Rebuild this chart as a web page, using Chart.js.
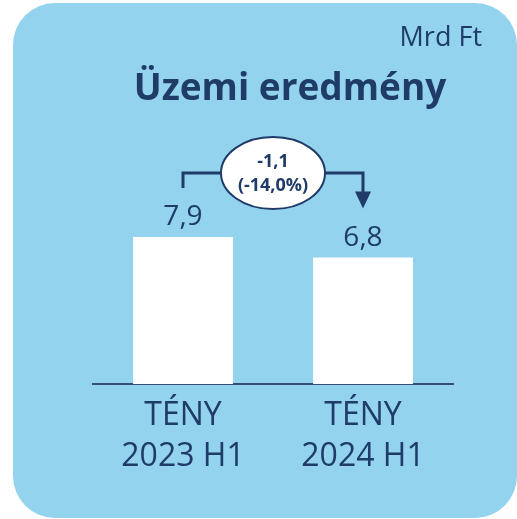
<!DOCTYPE html>
<html lang="hu">
<head>
<meta charset="utf-8">
<title>Üzemi eredmény</title>
<script src="https://cdn.jsdelivr.net/npm/chart.js@4.4.0/dist/chart.umd.min.js"></script>
<style>
  html, body { margin: 0; padding: 0; background: #ffffff; }
</style>
</head>
<body>
<canvas id="grafico" width="517" height="519"></canvas>
<script>
// Dados do gráfico
const categorias = [['TÉNY', '2023 H1'], ['TÉNY', '2024 H1']];
const valores = [7.9, 6.8];
const rotulosValores = ['7,9', '6,8'];
const rotulosVariacao = ['-1,1', '(-14,0%)'];
const titulo = 'Üzemi eredmény';
const unidade = 'Mrd Ft';

const corTexto = '#1F3B68';
const corFundo = '#93D3EE';

// Fundo arredondado do cartão
const fundo = {
    id: 'fundo',
    beforeDraw(chart) {
        const ctx = chart.ctx;
        ctx.save();
        ctx.fillStyle = '#ffffff';
        ctx.fillRect(0, 0, chart.width, chart.height);
        ctx.fillStyle = corFundo;
        ctx.beginPath();
        ctx.roundRect(13, 3, chart.width - 13, chart.height - 4, 42);
        ctx.fill();
        ctx.restore();
    }
};

// Rótulos, título e a seta de variação
const anotacoes = {
    id: 'anotacoes',
    afterDatasetsDraw(chart) {
        const ctx = chart.ctx;
        const barras = chart.getDatasetMeta(0).data;
        ctx.save();

        // Valores acima das barras
        ctx.fillStyle = corTexto;
        ctx.font = '28px "Open Sans"';
        ctx.textAlign = 'center';
        ctx.textBaseline = 'alphabetic';
        barras.forEach((b, i) => {
            ctx.fillText(rotulosValores[i], b.x, b.y - 12);
        });

        // Linha de ligação entre as barras
        const b1 = barras[0], b2 = barras[1];
        const yLinha = b1.y - 64;
        const xCentro = (b1.x + b2.x) / 2;
        const rx = 52, ry = 36;
        ctx.strokeStyle = corTexto;
        ctx.lineWidth = 3;
        ctx.beginPath();
        ctx.moveTo(b1.x, b1.y - 49);
        ctx.lineTo(b1.x, yLinha);
        ctx.lineTo(xCentro, yLinha);
        ctx.moveTo(xCentro, yLinha);
        ctx.lineTo(b2.x, yLinha);
        ctx.lineTo(b2.x, b2.y - 64);
        ctx.stroke();

        // Ponta da seta
        ctx.fillStyle = corTexto;
        ctx.beginPath();
        ctx.moveTo(b2.x - 8, b2.y - 66);
        ctx.lineTo(b2.x + 8, b2.y - 66);
        ctx.lineTo(b2.x, b2.y - 49);
        ctx.closePath();
        ctx.fill();

        // Elipse com a variação
        ctx.fillStyle = '#ffffff';
        ctx.lineWidth = 2;
        ctx.beginPath();
        ctx.ellipse(xCentro, yLinha, rx, ry, 0, 0, Math.PI * 2);
        ctx.fill();
        ctx.stroke();

        ctx.fillStyle = corTexto;
        ctx.font = 'bold 18px "Open Sans"';
        ctx.textBaseline = 'middle';
        ctx.fillText(rotulosVariacao[0], xCentro, yLinha - 11);
        ctx.fillText(rotulosVariacao[1], xCentro, yLinha + 13);

        // Título e unidade
        ctx.textBaseline = 'alphabetic';
        ctx.font = 'bold 37px "Open Sans"';
        ctx.fillText(titulo, 290, 100);
        ctx.textAlign = 'right';
        ctx.font = '27px "Open Sans"';
        ctx.fillText(unidade, 482, 46);

        ctx.restore();
    }
};

const ctx = document.getElementById('grafico').getContext('2d');
new Chart(ctx, {
    type: 'bar',
    data: {
        labels: categorias,
        datasets: [{
            data: valores,
            backgroundColor: '#ffffff',
            borderWidth: 0,
            barPercentage: 0.555,
            categoryPercentage: 1
        }]
    },
    options: {
        responsive: false,
        animation: false,
        devicePixelRatio: 1,
        layout: { padding: { top: 198, left: 93, right: 64, bottom: 31 } },
        plugins: {
            legend: { display: false },
            tooltip: { enabled: false }
        },
        scales: {
            x: {
                grid: { display: false, drawTicks: false },
                border: { display: true, color: '#34507A', width: 2 },
                ticks: {
                    color: corTexto,
                    padding: 11,
                    font: { family: 'Open Sans', size: 32, lineHeight: 1.28 }
                }
            },
            y: { display: false, min: 0, max: 10 }
        }
    },
    plugins: [fundo, anotacoes]
});
</script>
</body>
</html>
